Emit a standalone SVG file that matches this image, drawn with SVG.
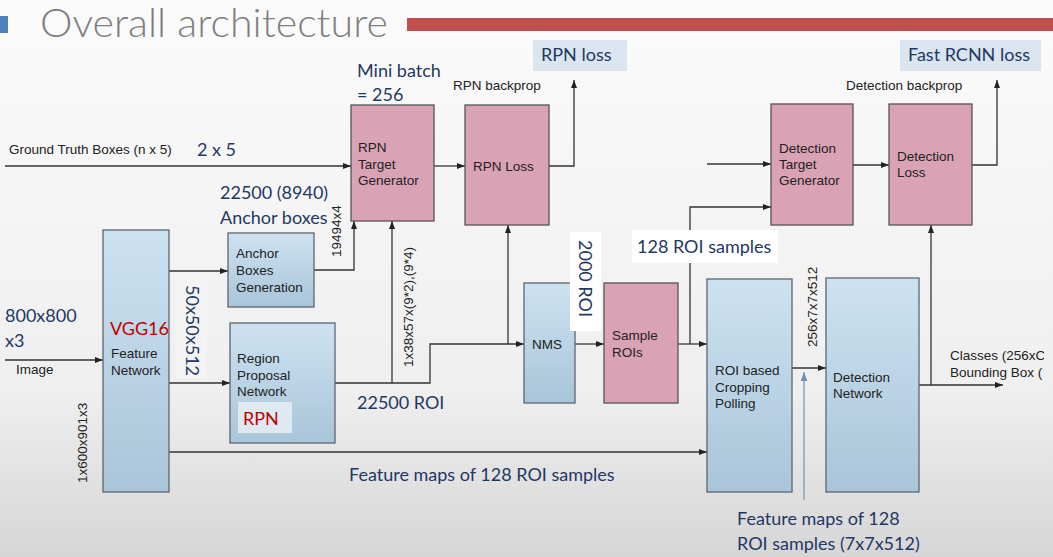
<svg xmlns="http://www.w3.org/2000/svg" width="1053" height="557" viewBox="0 0 1053 557">
<defs>
<linearGradient id="bg" x1="0" y1="0" x2="0" y2="1">
<stop offset="0" stop-color="#fbfbfb"/>
<stop offset="0.7" stop-color="#efefef"/>
<stop offset="1" stop-color="#d6d6d6"/>
</linearGradient>
<linearGradient id="blue" x1="0" y1="0" x2="0" y2="1">
<stop offset="0" stop-color="#cde2f1"/>
<stop offset="1" stop-color="#a9c5d9"/>
</linearGradient>
<marker id="ah" viewBox="0 0 8 6" refX="8" refY="3" markerWidth="8" markerHeight="6" markerUnits="userSpaceOnUse" orient="auto">
<path d="M0,0 L8,3 L0,6 z" fill="#222"/>
</marker>
<marker id="ahb" viewBox="0 0 8 6" refX="8" refY="3" markerWidth="9" markerHeight="7" markerUnits="userSpaceOnUse" orient="auto">
<path d="M0,0 L8,3 L0,6 z" fill="#6f8fbf"/>
</marker>
<clipPath id="clipR"><rect x="0" y="0" width="1044" height="557"/></clipPath>
</defs>
<style>
.bx{fill:url(#blue);stroke:#5e6670;stroke-width:1.3}
.pk{fill:#d9a2b5;stroke:#555;stroke-width:1.3}
.lb{fill:#dbe5ef}
.t{font-family:"Liberation Sans",Arial,sans-serif;font-size:13.5px;fill:#222}
.nv{font-family:Lato,"Open Sans",sans-serif;font-size:18px;fill:#1f3864}
.red{font-family:Lato,"Open Sans",sans-serif;font-size:18px;fill:#c00000}
.rt{font-family:"Liberation Sans",Arial,sans-serif;font-size:13.5px;fill:#222}
.c{fill:none;stroke:#333;stroke-width:1.3}
</style>
<rect x="0" y="0" width="1053" height="557" fill="url(#bg)"/>
<g id="header">
<rect x="0" y="16" width="8" height="17" fill="#4f81bd"/>
<text x="40" y="37" font-family="Lato,'Open Sans',sans-serif" font-weight="300" font-size="40" fill="#7f7f7f" textLength="348" lengthAdjust="spacingAndGlyphs">Overall architecture</text>
<rect x="407" y="18" width="646" height="13" fill="#c0504d"/>
</g>
<g id="connectors">
<path class="c" d="M5,360 H103" marker-end="url(#ah)"/>
<path class="c" d="M5,166 H351" marker-end="url(#ah)"/>
<path class="c" d="M169,271 H228" marker-end="url(#ah)"/>
<path class="c" d="M169,383 H230" marker-end="url(#ah)"/>
<path class="c" d="M314,270 H354 V221" marker-end="url(#ah)"/>
<path class="c" d="M335,383 H430 V344 H524" marker-end="url(#ah)"/>
<path class="c" d="M392,383 V221" marker-end="url(#ah)"/>
<path class="c" d="M508,344 V225" marker-end="url(#ah)"/>
<path class="c" d="M434,166 H465" marker-end="url(#ah)"/>
<path class="c" d="M549,166 H574 V80" marker-end="url(#ah)"/>
<path class="c" d="M575,344 H604" marker-end="url(#ah)"/>
<path class="c" d="M678,344 H707" marker-end="url(#ah)"/>
<path class="c" d="M690,344 V207 H771" marker-end="url(#ah)"/>
<path class="c" d="M707,164 H771" marker-end="url(#ah)"/>
<path class="c" d="M853,165 H889" marker-end="url(#ah)"/>
<path class="c" d="M972,165 H997 V80" marker-end="url(#ah)"/>
<path class="c" d="M792,368 H826" marker-end="url(#ah)"/>
<path fill="none" stroke="#7f97b8" stroke-width="1.3" d="M804,500 V372" marker-end="url(#ahb)"/>
<path class="c" d="M919,385 H1003" marker-end="url(#ah)"/>
<path class="c" d="M931,385 V225" marker-end="url(#ah)"/>
<path class="c" d="M169,452 H707" marker-end="url(#ah)"/>
</g>
<g id="vgg">
<rect class="bx" x="103" y="230" width="66" height="262"/>
<text class="red" x="110" y="335">VGG16</text>
<text class="t" x="111" y="358">Feature</text>
<text class="t" x="111" y="375">Network</text>
</g>
<g id="anchor">
<rect class="bx" x="228" y="233" width="86" height="74"/>
<text class="t" x="236" y="258">Anchor</text>
<text class="t" x="236" y="275">Boxes</text>
<text class="t" x="236" y="292">Generation</text>
</g>
<g id="rpn">
<rect class="bx" x="230" y="323" width="105" height="120"/>
<text class="t" x="237" y="363">Region</text>
<text class="t" x="237" y="380">Proposal</text>
<text class="t" x="237" y="396">Network</text>
<rect x="238" y="402" width="54" height="31" fill="#dfe9f2"/>
<text class="red" x="243" y="425" font-size="17">RPN</text>
</g>
<g id="rpn-target">
<rect class="pk" x="351" y="105" width="83" height="116"/>
<text class="t" x="358" y="152">RPN</text>
<text class="t" x="358" y="169">Target</text>
<text class="t" x="358" y="185">Generator</text>
</g>
<g id="rpn-loss-node">
<rect class="pk" x="465" y="105" width="84" height="120"/>
<text class="t" x="473" y="171">RPN Loss</text>
</g>
<g id="nms">
<rect class="bx" x="524" y="283" width="51" height="120"/>
<text class="t" x="532" y="349">NMS</text>
</g>
<g id="sample">
<rect class="pk" x="604" y="283" width="74" height="120"/>
<text class="t" x="612" y="340">Sample</text>
<text class="t" x="612" y="357">ROIs</text>
</g>
<g id="roi-crop">
<rect class="bx" x="707" y="279" width="85" height="213"/>
<text class="t" x="715" y="375">ROI based</text>
<text class="t" x="715" y="392">Cropping</text>
<text class="t" x="715" y="408">Polling</text>
</g>
<g id="det-net">
<rect class="bx" x="826" y="278" width="93" height="214"/>
<text class="t" x="833" y="382">Detection</text>
<text class="t" x="833" y="398">Network</text>
</g>
<g id="det-target">
<rect class="pk" x="771" y="104" width="82" height="121"/>
<text class="t" x="779" y="153">Detection</text>
<text class="t" x="779" y="169">Target</text>
<text class="t" x="779" y="185">Generator</text>
</g>
<g id="det-loss">
<rect class="pk" x="889" y="104" width="83" height="121"/>
<text class="t" x="897" y="161">Detection</text>
<text class="t" x="897" y="177">Loss</text>
</g>
<g id="rpn-loss-label">
<rect class="lb" x="533" y="40" width="94" height="31"/>
<text class="nv" x="541" y="61">RPN loss</text>
</g>
<g id="fast-rcnn-loss-label">
<rect class="lb" x="900" y="40" width="141" height="31"/>
<text class="nv" x="908" y="61">Fast RCNN loss</text>
</g>
<g id="labels">
<text class="t" x="453" y="90">RPN backprop</text>
<text class="t" x="846" y="90">Detection backprop</text>
<text class="nv" x="357" y="77">Mini batch</text>
<text class="nv" x="357" y="101">= 256</text>
<text class="t" x="9" y="154" font-size="13.5">Ground Truth Boxes (n x 5)</text>
<text class="nv" x="197" y="156" font-size="20">2 x 5</text>
<text class="nv" x="220" y="199">22500 (8940)</text>
<text class="nv" x="220" y="224">Anchor boxes</text>
<text class="nv" x="5" y="322" font-size="19">800x800</text>
<text class="nv" x="5" y="347" font-size="19">x3</text>
<text class="t" x="16" y="374" font-size="13.5">Image</text>
<text class="nv" x="357" y="409">22500 ROI</text>
<text class="nv" x="349" y="481" font-size="18.3">Feature maps of 128 ROI samples</text>
<text class="nv" x="737" y="525">Feature maps of 128</text>
<text class="nv" x="737" y="550">ROI samples (7x7x512)</text>
<rect x="176" y="280" width="31" height="98" fill="#f4f4f4"/>
<text class="nv" font-size="19" transform="translate(186,285) rotate(90)">50x50x512</text>
<rect x="570" y="232" width="31" height="99" fill="#ffffff"/>
<text class="nv" font-size="19" transform="translate(579,240) rotate(90)">2000 ROI</text>
<rect x="632" y="230" width="146" height="33" fill="#ffffff"/>
<text class="nv" x="637" y="253">128 ROI samples</text>
<text class="rt" transform="translate(341,257) rotate(-90)">19494x4</text>
<text class="rt" transform="translate(413,367) rotate(-90)">1x38x57x(9*2),(9*4)</text>
<text class="rt" transform="translate(87,483) rotate(-90)">1x600x901x3</text>
<text class="rt" transform="translate(817,347) rotate(-90)">256x7x7x512</text>
<g clip-path="url(#clipR)">
<text class="t" x="950" y="360">Classes (256xC</text>
<text class="t" x="950" y="377">Bounding Box (</text>
</g>
</g>
</svg>
